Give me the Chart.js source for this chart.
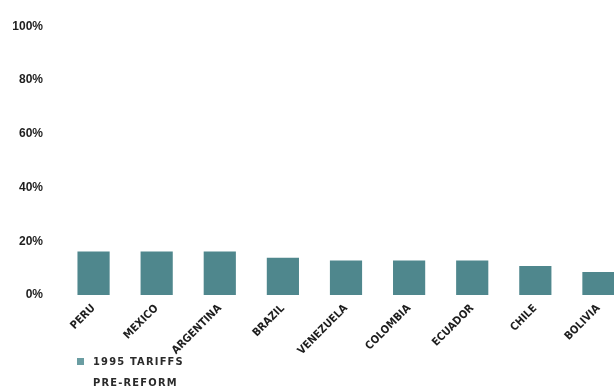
<!DOCTYPE html>
<html>
<head>
<meta charset="utf-8">
<script src="https://cdn.jsdelivr.net/npm/chart.js@4"></script>
<style>
  html, body { margin: 0; padding: 0; background: #fff; overflow: hidden; }
  #wrap { width: 640px; height: 390px; }
</style>
</head>
<body>
<div id="wrap"><canvas id="tariff-chart"></canvas></div>
<script>
const countries = ['PERU', 'MEXICO', 'ARGENTINA', 'BRAZIL', 'VENEZUELA', 'COLOMBIA', 'ECUADOR', 'CHILE', 'BOLIVIA'];
const tariffs_1995 = [16.2, 16.2, 16.2, 13.9, 12.8, 12.8, 12.8, 10.8, 8.6];
const y_ticks = [0, 20, 40, 60, 80, 100];
const series_label = '1995 TARIFFS';
const legend_note = 'PRE-REFORM';
const bar_color = '#4f878d';

// simple legend drawn under the axis, like the print original
const noteLegend = {
  id: 'noteLegend',
  afterDraw(chart) {
    const ctx = chart.ctx;
    ctx.save();
    ctx.fillStyle = '#6a9da2';
    ctx.fillRect(77, 358, 7, 7);
    ctx.fillStyle = '#2a2a2a';
    ctx.font = 'bold 11px "DejaVu Sans Condensed", "DejaVu Sans", sans-serif';
    ctx.letterSpacing = '1.2px';
    ctx.textBaseline = 'middle';
    ctx.fillText(chart.data.datasets[0].label, 93, 362);
    ctx.fillText(legend_note, 93, 383);
    ctx.restore();
  },
};

const ctx_tariff = document.getElementById('tariff-chart');
const tariffChart = new Chart(ctx_tariff, {
  type: 'bar',
  data: {
    labels: countries,
    datasets: [{
      label: series_label,
      data: tariffs_1995,
      backgroundColor: bar_color,
      borderWidth: 0,
      barPercentage: 0.51,
      categoryPercentage: 1,
    }],
  },
  options: {
    responsive: true,
    maintainAspectRatio: false,
    animation: false,
    layout: { padding: { left: 0, right: 10, top: 0, bottom: 0 } },
    plugins: {
      legend: { display: false },
      tooltip: { enabled: false },
    },
    scales: {
      x: {
        grid: { display: false, drawTicks: false },
        border: { display: false },
        ticks: {
          minRotation: 45,
          maxRotation: 45,
          padding: 7,
          color: '#1e1e1e',
          font: { family: '"DejaVu Sans Condensed", "DejaVu Sans", sans-serif', weight: 'bold', size: 11 },
        },
        afterFit(scale) { scale.height = 95; },
      },
      y: {
        min: 0,
        max: 100,
        afterBuildTicks(scale) { scale.ticks = y_ticks.map(v => ({ value: v })); },
        grid: { display: false, drawTicks: false },
        border: { display: false },
        ticks: {
          padding: 19,
          color: '#1e1e1e',
          font: { family: '"Liberation Sans", Arial, sans-serif', weight: 'bold', size: 12 },
          callback: v => v + '%',
        },
        afterFit(scale) { scale.width = 62; },
      },
    },
  },
  plugins: [noteLegend],
});
</script>
</body>
</html>
